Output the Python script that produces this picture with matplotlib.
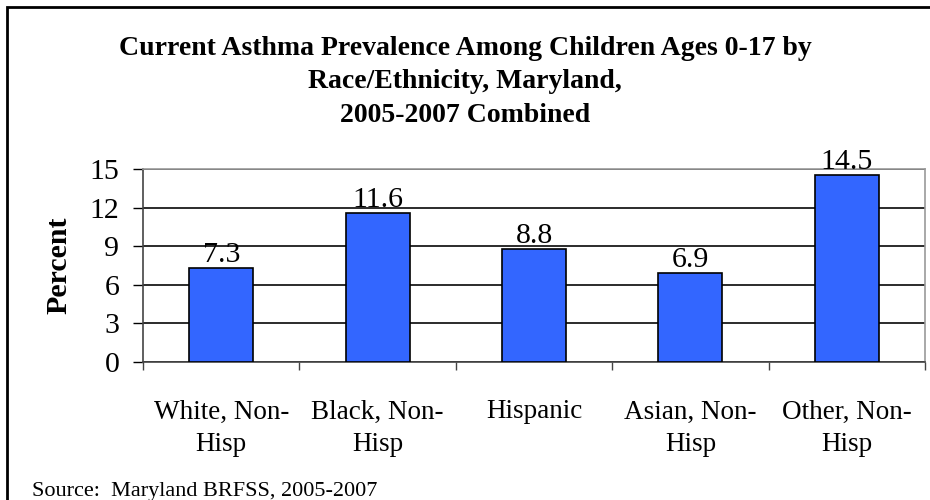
import matplotlib
matplotlib.use("Agg")
import matplotlib.pyplot as plt
import matplotlib.patches as patches
import numpy as np

plt.rcParams['font.family'] = ['Liberation Serif', 'DejaVu Serif']

# chart data
categories = ["White, Non-\nHisp", "Black, Non-\nHisp", "Hispanic",
              "Asian, Non-\nHisp", "Other, Non-\nHisp"]
values = [7.3, 11.6, 8.8, 6.9, 14.5]
yticks = [0, 3, 6, 9, 12, 15]

fig = plt.figure(figsize=(9.3, 5.0), dpi=100)
ax = fig.add_axes([143 / 930, 1 - 362 / 500, 782 / 930, 193 / 500])

x = np.arange(len(categories))
bars = ax.bar(x, values, width=0.41, color="#3366FF", edgecolor="black",
              linewidth=1.2, zorder=3)

for b, v in zip(bars, values):
    ax.annotate(f"{v}", (b.get_x() + b.get_width() / 2, v),
                xytext=(0, 0), textcoords="offset points",
                ha="center", va="bottom", fontsize=21.5)

ax.set_xlim(-0.5, len(categories) - 0.5)
ax.set_ylim(0, 15)
ax.set_yticks(yticks)
ax.set_yticklabels([str(t) for t in yticks])
ax.tick_params(axis="y", length=7, width=1, pad=10, labelsize=21.5)
ax.yaxis.grid(True, color="#1a1a1a", linewidth=1.3, zorder=0)

# labels at category centres, tick marks at category boundaries
ax.set_xticks(x)
ax.set_xticklabels(categories, fontsize=19.5, linespacing=1.37)
ax.tick_params(axis="x", which="major", length=0, pad=27)
ax.set_xticks(np.arange(-0.5, len(categories)), minor=True)
ax.tick_params(axis="x", which="minor", length=6, width=1, color="#444444")

ax.spines["left"].set_color("#444444")
ax.spines["bottom"].set_color("#444444")
ax.spines["top"].set_color("#999999")
ax.spines["right"].set_color("#999999")
for s in ax.spines.values():
    s.set_linewidth(1.2)

ax.set_ylabel("Percent", fontsize=21.5, fontweight="bold")
ax.yaxis.set_label_coords((72 - 143) / 782, 0.5)

fig.text(0.5, 1 - 82 / 500,
         "Current Asthma Prevalence Among Children Ages 0-17 by\n"
         "Race/Ethnicity, Maryland,\n2005-2007 Combined",
         ha="center", va="center", fontsize=20, fontweight="bold",
         linespacing=1.45)

fig.text(32 / 930, 4 / 500, "Source:  Maryland BRFSS, 2005-2007",
         ha="left", va="baseline", fontsize=16)

# outer frame (runs off the right and bottom edges)
fig.patches.append(patches.Rectangle((7 / 930, -0.1), 1.2, 1.1 - 7 / 500,
                                     transform=fig.transFigure, fill=False,
                                     edgecolor="black", linewidth=2))

fig.savefig("out.png", dpi=100)
